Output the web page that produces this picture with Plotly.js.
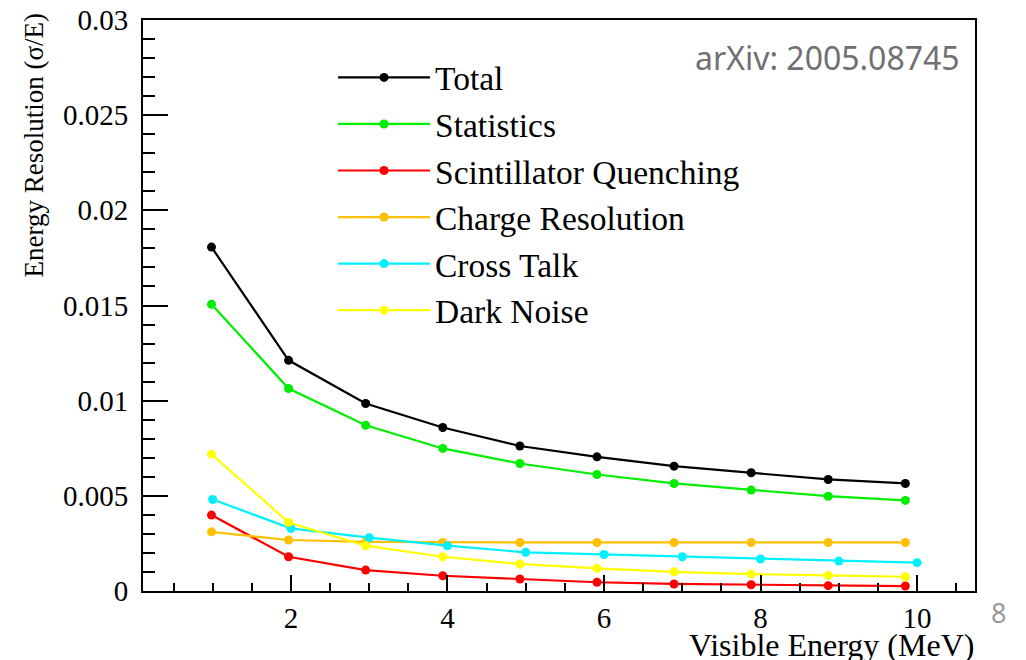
<!DOCTYPE html>
<html>
<head>
<meta charset="utf-8">
<script src="https://cdn.plot.ly/plotly-3.0.1.min.js"></script>
<style>html,body{margin:0;padding:0;background:#fff;}#chart{width:1026px;height:660px;}</style>
</head>
<body>
<div id="chart"></div>
<script>
// Visible energy points (MeV)
const energyX = [0.985, 1.97, 2.955, 3.94, 4.925, 5.91, 6.895, 7.88, 8.865, 9.85];
const crossTalkX = [1, 2, 3, 4, 5, 6, 7, 8, 9, 10];

const seriesNames = ["Total", "Statistics", "Scintillator Quenching", "Charge Resolution", "Cross Talk", "Dark Noise"];
const totalRes      = [0.01807, 0.01212, 0.00985, 0.00859, 0.00762, 0.00705, 0.00656, 0.00621, 0.00586, 0.00565];
const statisticsRes = [0.01506, 0.01064, 0.00871, 0.00749, 0.00670, 0.00612, 0.00565, 0.00530, 0.00498, 0.00476];
const quenchingRes  = [0.00399, 0.00180, 0.00110, 0.00080, 0.00063, 0.00046, 0.00037, 0.00033, 0.00028, 0.00026];
const chargeRes     = [0.00311, 0.00268, 0.00258, 0.00255, 0.00255, 0.00255, 0.00255, 0.00255, 0.00255, 0.00255];
const crossTalkRes  = [0.00481, 0.00329, 0.00280, 0.00238, 0.00203, 0.00192, 0.00180, 0.00168, 0.00157, 0.00149];
const darkNoiseRes  = [0.00719, 0.00360, 0.00238, 0.00180, 0.00142, 0.00119, 0.00101, 0.00089, 0.00082, 0.00075];

const seriesColors = ["#000000", "#00ee00", "#ff0000", "#ffc000", "#00f0ff", "#ffff00"];
const seriesX = [energyX, energyX, energyX, energyX, crossTalkX, energyX];
const seriesY = [totalRes, statisticsRes, quenchingRes, chargeRes, crossTalkRes, darkNoiseRes];

const serif = "Liberation Serif, Times New Roman, serif";

const traces = seriesNames.map((name, i) => ({
  type: "scatter",
  mode: "lines+markers",
  name: name,
  x: seriesX[i],
  y: seriesY[i],
  line: {color: seriesColors[i], width: 2.2},
  marker: {color: seriesColors[i], size: 9, line: {width: 0}},
  legendgroup: "g" + i
}));

const layout = {
  width: 1026,
  height: 660,
  margin: {l: 143, r: 51, t: 20, b: 69},
  paper_bgcolor: "#ffffff",
  plot_bgcolor: "#ffffff",
  showlegend: true,
  legend: {
    x: 0.2284, y: 0.949, xanchor: "left", yanchor: "top",
    font: {family: serif, size: 33.5, color: "#000"},
    bgcolor: "rgba(0,0,0,0)",
    borderwidth: 0,
    itemwidth: 92,
    tracegroupgap: 0,
    traceorder: "grouped"
  },
  xaxis: {
    range: [0.11, 10.74],
    showgrid: false, zeroline: false,
    showline: true, linecolor: "#000", linewidth: 2, mirror: true,
    ticks: "inside", ticklen: 16, tickwidth: 2, tickcolor: "#000",
    tick0: 0, dtick: 2,
    tickfont: {family: serif, size: 29, color: "#000"},
    minor: {ticks: "inside", dtick: 0.5, ticklen: 8, tickwidth: 2, tickcolor: "#000", showgrid: false}
  },
  yaxis: {
    range: [0, 0.03],
    showgrid: false, zeroline: false,
    showline: true, linecolor: "#000", linewidth: 2, mirror: true,
    ticks: "inside", ticklen: 25, tickwidth: 2, tickcolor: "#000",
    tick0: 0, dtick: 0.005, ticklabelstandoff: 7,
    tickfont: {family: serif, size: 29, color: "#000"},
    minor: {ticks: "inside", dtick: 0.001, ticklen: 12, tickwidth: 2, tickcolor: "#000", showgrid: false}
  },
  annotations: [
    {text: "Visible Energy (MeV)", xref: "paper", yref: "paper", x: 1, y: 0,
     xanchor: "right", yanchor: "middle", xshift: 1, yshift: -54, showarrow: false,
     font: {family: serif, size: 32, color: "#000"}},
    {text: "Energy Resolution (σ/E)", xref: "paper", yref: "paper", x: 0, y: 1,
     xanchor: "center", yanchor: "top", xshift: -110, yshift: 9, textangle: -90, showarrow: false,
     font: {family: serif, size: 27, color: "#000"}},
    {text: "arXiv: 2005.08745", xref: "paper", yref: "paper", x: 1, y: 1,
     xanchor: "right", yanchor: "middle", xshift: -13, yshift: -37, showarrow: false,
     font: {family: "Noto Sans, Lato, sans-serif", size: 32, color: "#707070"}},
    {text: "8", xref: "paper", yref: "paper", x: 1, y: 0,
     xanchor: "center", yanchor: "middle", xshift: 23, yshift: -21, showarrow: false,
     font: {family: "Noto Sans, Lato, sans-serif", size: 27, color: "#999"}}
  ]
};

Plotly.newPlot("chart", traces, layout, {displayModeBar: false, staticPlot: true});
</script>
</body>
</html>
